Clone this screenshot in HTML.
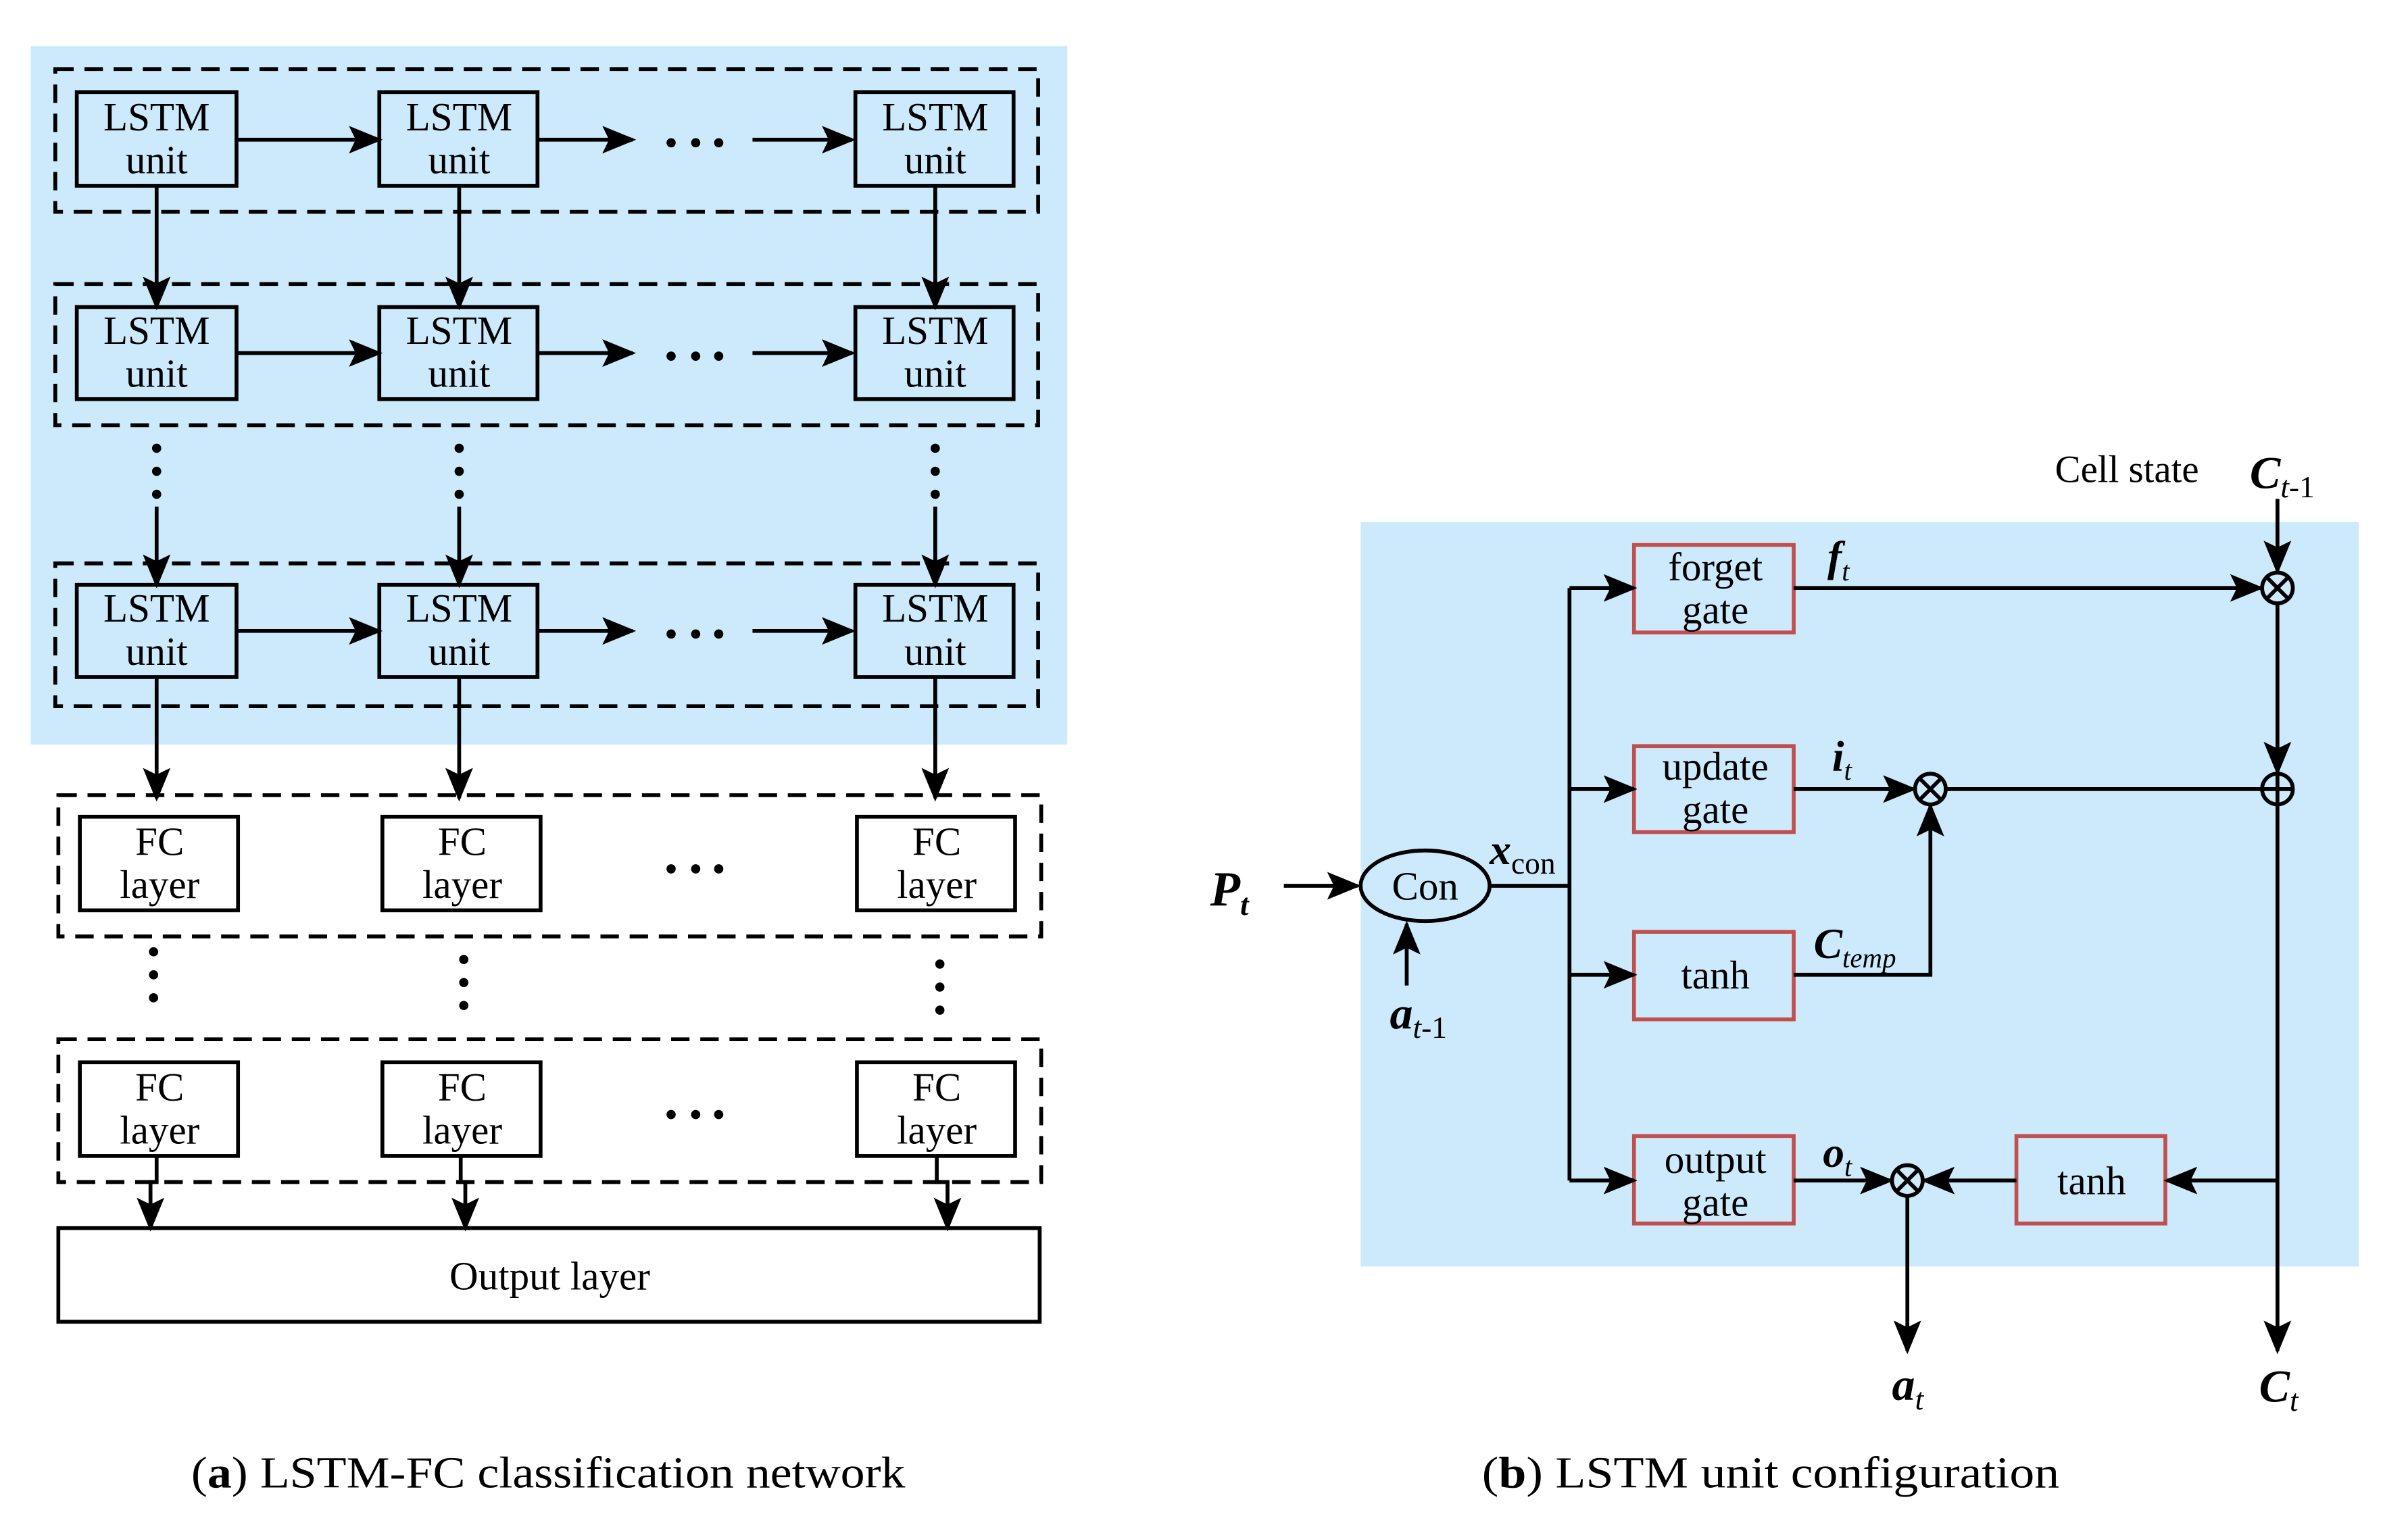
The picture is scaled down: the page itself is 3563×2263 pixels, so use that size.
<!DOCTYPE html>
<html><head><meta charset="utf-8"><style>
html,body{margin:0;padding:0;background:#fff;}
svg{display:block;}
text{font-family:"Liberation Serif",serif;fill:#000;}
</style></head><body>
<svg width="3563" height="2263" viewBox="0 0 1568 996" preserveAspectRatio="none" xmlns="http://www.w3.org/2000/svg">
<defs>
<marker id="a2" viewBox="0 0 10 10" refX="9" refY="5" markerWidth="22" markerHeight="18" orient="auto" markerUnits="userSpaceOnUse" preserveAspectRatio="none">
<path d="M0,0 L10,5 L0,10 L2,5 Z" fill="#000"/></marker>
</defs>
<!-- LEFT -->
<rect x="20" y="30" width="675" height="455" fill="#cdeafc"/>
<g fill="none" stroke="#000" stroke-width="2.5" stroke-dasharray="12,7">
<rect x="36" y="45" width="640" height="93"/>
<rect x="36" y="185" width="640" height="92"/>
<rect x="36" y="367" width="640" height="93"/>
<rect x="38" y="518" width="640" height="92"/>
<rect x="38" y="677" width="640" height="93"/>
</g>
<g fill="none" stroke="#000" stroke-width="2.5">
<rect x="50" y="60" width="104" height="61"/><rect x="247" y="60" width="103" height="61"/><rect x="557" y="60" width="103" height="61"/>
<rect x="50" y="200" width="104" height="60"/><rect x="247" y="200" width="103" height="60"/><rect x="557" y="200" width="103" height="60"/>
<rect x="50" y="381" width="104" height="60"/><rect x="247" y="381" width="103" height="60"/><rect x="557" y="381" width="103" height="60"/>
<rect x="52" y="532" width="103" height="61"/><rect x="249" y="532" width="103" height="61"/><rect x="558" y="532" width="103" height="61"/>
<rect x="52" y="692" width="103" height="61"/><rect x="249" y="692" width="103" height="61"/><rect x="558" y="692" width="103" height="61"/>
<rect x="38" y="800" width="639" height="61"/>
</g>
<g stroke="#000" stroke-width="2.5" fill="none" marker-end="url(#a2)">
<line x1="154" y1="91" x2="247" y2="91"/><line x1="350" y1="91" x2="412" y2="91"/><line x1="490" y1="91" x2="555" y2="91"/>
<line x1="154" y1="230" x2="247" y2="230"/><line x1="350" y1="230" x2="412" y2="230"/><line x1="490" y1="230" x2="555" y2="230"/>
<line x1="154" y1="411" x2="247" y2="411"/><line x1="350" y1="411" x2="412" y2="411"/><line x1="490" y1="411" x2="555" y2="411"/>
<line x1="102" y1="121" x2="102" y2="200"/><line x1="299" y1="121" x2="299" y2="200"/><line x1="609" y1="121" x2="609" y2="200"/>
<line x1="102" y1="330" x2="102" y2="381"/><line x1="299" y1="330" x2="299" y2="381"/><line x1="609" y1="330" x2="609" y2="381"/>
<line x1="102" y1="441" x2="102" y2="520"/><line x1="299" y1="441" x2="299" y2="520"/><line x1="609" y1="441" x2="609" y2="520"/>
<polyline points="102,753 102,770 98,770 98,800"/><polyline points="300,753 300,770 303,770 303,800"/><polyline points="610,753 610,770 617,770 617,800"/>
</g>
<g font-size="26" text-anchor="middle">
<text x="102" y="85">LSTM</text><text x="102" y="113">unit</text>
<text x="299" y="85">LSTM</text><text x="299" y="113">unit</text>
<text x="609" y="85">LSTM</text><text x="609" y="113">unit</text>
<text x="102" y="224">LSTM</text><text x="102" y="252">unit</text>
<text x="299" y="224">LSTM</text><text x="299" y="252">unit</text>
<text x="609" y="224">LSTM</text><text x="609" y="252">unit</text>
<text x="102" y="405">LSTM</text><text x="102" y="433">unit</text>
<text x="299" y="405">LSTM</text><text x="299" y="433">unit</text>
<text x="609" y="405">LSTM</text><text x="609" y="433">unit</text>
<text x="104" y="557">FC</text><text x="104" y="585">layer</text>
<text x="301" y="557">FC</text><text x="301" y="585">layer</text>
<text x="610" y="557">FC</text><text x="610" y="585">layer</text>
<text x="104" y="717">FC</text><text x="104" y="745">layer</text>
<text x="301" y="717">FC</text><text x="301" y="745">layer</text>
<text x="610" y="717">FC</text><text x="610" y="745">layer</text>
<text x="358" y="840">Output layer</text>
</g>
<g fill="#000">
<circle cx="437" cy="93" r="3"/><circle cx="453" cy="93" r="3"/><circle cx="468" cy="93" r="3"/>
<circle cx="437" cy="232" r="3"/><circle cx="453" cy="232" r="3"/><circle cx="468" cy="232" r="3"/>
<circle cx="437" cy="413" r="3"/><circle cx="453" cy="413" r="3"/><circle cx="468" cy="413" r="3"/>
<circle cx="437" cy="566" r="3"/><circle cx="453" cy="566" r="3"/><circle cx="468" cy="566" r="3"/>
<circle cx="437" cy="726" r="3"/><circle cx="453" cy="726" r="3"/><circle cx="468" cy="726" r="3"/>
<circle cx="102" cy="292" r="3"/><circle cx="102" cy="307" r="3"/><circle cx="102" cy="322" r="3"/>
<circle cx="299" cy="292" r="3"/><circle cx="299" cy="307" r="3"/><circle cx="299" cy="322" r="3"/>
<circle cx="609" cy="292" r="3"/><circle cx="609" cy="307" r="3"/><circle cx="609" cy="322" r="3"/>
<circle cx="100" cy="620" r="3"/><circle cx="100" cy="635" r="3"/><circle cx="100" cy="650" r="3"/>
<circle cx="302" cy="625" r="3"/><circle cx="302" cy="640" r="3"/><circle cx="302" cy="655" r="3"/>
<circle cx="612" cy="628" r="3"/><circle cx="612" cy="643" r="3"/><circle cx="612" cy="658" r="3"/>
</g>
<text x="357" y="969" font-size="29" text-anchor="middle" textLength="465" lengthAdjust="spacingAndGlyphs">(<tspan font-weight="bold">a</tspan>) LSTM-FC classification network</text>
<!-- RIGHT -->
<rect x="886" y="340" width="650" height="485" fill="#cdeafc"/>
<g fill="none" stroke="#c0504d" stroke-width="2.5">
<rect x="1064" y="355" width="104" height="57"/><rect x="1064" y="486" width="104" height="56"/>
<rect x="1064" y="607" width="104" height="57"/><rect x="1064" y="740" width="104" height="57"/>
<rect x="1313" y="740" width="97" height="57"/>
</g>
<g font-size="26" text-anchor="middle">
<text x="1117" y="378">forget</text><text x="1117" y="406">gate</text>
<text x="1117" y="508">update</text><text x="1117" y="536">gate</text>
<text x="1117" y="644">tanh</text>
<text x="1117" y="764">output</text><text x="1117" y="792">gate</text>
<text x="1362" y="778">tanh</text>
<text x="928" y="586">Con</text>
<text x="1385" y="314" font-size="25">Cell state</text>
</g>
<ellipse cx="928" cy="577" rx="42" ry="23" fill="none" stroke="#000" stroke-width="2.5"/>
<g stroke="#000" stroke-width="2.5" fill="none">
<line x1="970" y1="577" x2="1022" y2="577"/><line x1="1022" y1="383" x2="1022" y2="769"/>
<line x1="1268" y1="514" x2="1472" y2="514"/>
<circle cx="1483" cy="383" r="10"/><circle cx="1483" cy="514" r="10"/>
<circle cx="1257" cy="514" r="10"/><circle cx="1242" cy="769" r="10"/>
<path d="M1476,376 L1490,390 M1490,376 L1476,390 M1250,507 L1264,521 M1264,507 L1250,521 M1235,762 L1249,776 M1249,762 L1235,776 M1473,514 L1493,514 M1483,504 L1483,524"/>
</g>
<g stroke="#000" stroke-width="2.5" fill="none" marker-end="url(#a2)">
<line x1="836" y1="577" x2="884" y2="577"/>
<line x1="916" y1="642" x2="916" y2="602"/>
<line x1="1022" y1="383" x2="1064" y2="383"/><line x1="1022" y1="514" x2="1064" y2="514"/>
<line x1="1022" y1="635" x2="1064" y2="635"/><line x1="1022" y1="769" x2="1064" y2="769"/>
<line x1="1168" y1="383" x2="1472" y2="383"/>
<line x1="1168" y1="514" x2="1246" y2="514"/>
<polyline points="1168,635 1257,635 1257,525"/>
<line x1="1483" y1="325" x2="1483" y2="372"/>
<line x1="1483" y1="393" x2="1483" y2="503"/>
<line x1="1483" y1="524" x2="1483" y2="880"/>
<line x1="1483" y1="769" x2="1411" y2="769"/>
<line x1="1313" y1="769" x2="1253" y2="769"/>
<line x1="1168" y1="769" x2="1231" y2="769"/>
<line x1="1242" y1="780" x2="1242" y2="880"/>
</g>
<g font-weight="bold" font-style="italic">
<text x="788" y="590" font-size="32">P<tspan font-size="20" dy="6">t</tspan></text>
<text x="905" y="670" font-size="30">a<tspan font-size="20" font-style="normal" font-weight="normal" dy="6"><tspan font-style="italic">t</tspan>-1</tspan></text>
<text x="970" y="563" font-size="28">x<tspan font-size="20" font-style="normal" font-weight="normal" dy="6">con</tspan></text>
<text x="1190" y="372" font-size="28">f<tspan font-size="18" font-weight="normal" dy="6">t</tspan></text>
<text x="1193" y="502" font-size="28">i<tspan font-size="18" font-weight="normal" dy="6">t</tspan></text>
<text x="1181" y="624" font-size="28">C<tspan font-size="18" font-weight="normal" dy="6">temp</tspan></text>
<text x="1187" y="760" font-size="28">o<tspan font-size="18" font-weight="normal" dy="6">t</tspan></text>
<text x="1465" y="318" font-size="30">C<tspan font-size="20" font-style="normal" font-weight="normal" dy="6"><tspan font-style="italic">t</tspan>-1</tspan></text>
<text x="1232" y="912" font-size="30">a<tspan font-size="20" font-weight="normal" dy="6">t</tspan></text>
<text x="1471" y="913" font-size="30">C<tspan font-size="20" font-weight="normal" dy="6">t</tspan></text>
</g>
<text x="1153" y="969" font-size="29" text-anchor="middle" textLength="376" lengthAdjust="spacingAndGlyphs">(<tspan font-weight="bold">b</tspan>) LSTM unit configuration</text>
</svg>
</body></html>
